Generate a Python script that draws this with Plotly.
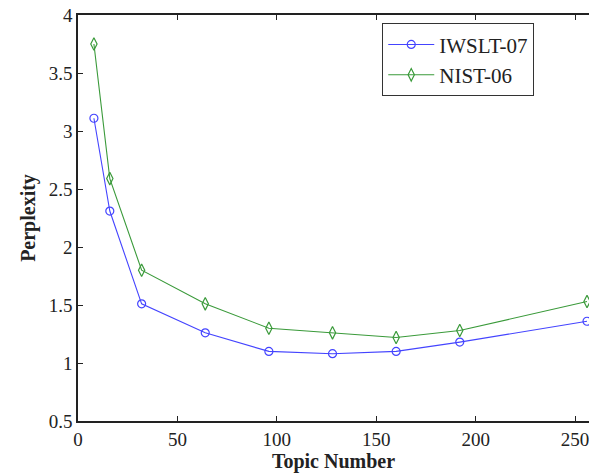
import plotly.graph_objects as go

topics = [8, 16, 32, 64, 96, 128, 160, 192, 256]
iwslt07 = [3.11, 2.31, 1.51, 1.26, 1.10, 1.08, 1.10, 1.18, 1.36]
nist06 = [3.75, 2.59, 1.80, 1.51, 1.30, 1.26, 1.22, 1.28, 1.53]
x_ticks = [0, 50, 100, 150, 200, 250]
y_ticks = [0.5, 1, 1.5, 2, 2.5, 3, 3.5, 4]

font = "Liberation Serif, Times New Roman, serif"

fig = go.Figure()
fig.add_trace(go.Scatter(
    x=topics, y=iwslt07, name="IWSLT-07", mode="lines+markers",
    line=dict(color="#4444ff", width=1.1),
    marker=dict(symbol="circle-open", size=8, color="#4444ff", line=dict(width=1.2)),
    cliponaxis=False,
))
fig.add_trace(go.Scatter(
    x=topics, y=nist06, name="NIST-06", mode="lines+markers",
    line=dict(color="#3a9a3a", width=1.1),
    marker=dict(symbol="diamond-tall-open", size=9, color="#3a9a3a", line=dict(width=1.2)),
    cliponaxis=False,
))

fig.update_layout(
    width=589, height=473,
    margin=dict(l=78, r=0, t=15, b=52),
    paper_bgcolor="white", plot_bgcolor="white",
    font=dict(family=font, size=19, color="#222"),
    showlegend=True,
    legend=dict(
        x=0.595, y=0.98, xanchor="left", yanchor="top",
        bordercolor="#333", borderwidth=1.2, bgcolor="white",
        font=dict(family=font, size=21, color="#222"),
        itemwidth=46, tracegroupgap=0,
    ),
    xaxis=dict(
        range=[0, 257], tickvals=x_ticks, ticks="inside", ticklen=5,
        tickcolor="#222", showline=True, linecolor="#222", linewidth=1.5,
        mirror="ticks", showgrid=False, zeroline=False, automargin=False,
        ticklabeloverflow="allow",
        title=dict(text="<b>Topic Number</b>", font=dict(family=font, size=20), standoff=4),
        tickfont=dict(family=font, size=19),
    ),
    yaxis=dict(
        range=[0.5, 4], tickvals=y_ticks, ticktext=[str(v) for v in y_ticks],
        ticks="inside", ticklen=5, tickcolor="#222",
        showline=True, linecolor="#222", linewidth=1.5, mirror=False,
        showgrid=False, zeroline=False, automargin=False,
        ticklabeloverflow="allow",
        title=dict(text="<b>Perplexity</b>", font=dict(family=font, size=20), standoff=8),
        tickfont=dict(family=font, size=19),
    ),
)

fig.write_html(
    "out.html",
    config={"displayModeBar": False},
    post_script="document.body.style.margin='0';document.body.style.overflow='hidden';",
)
